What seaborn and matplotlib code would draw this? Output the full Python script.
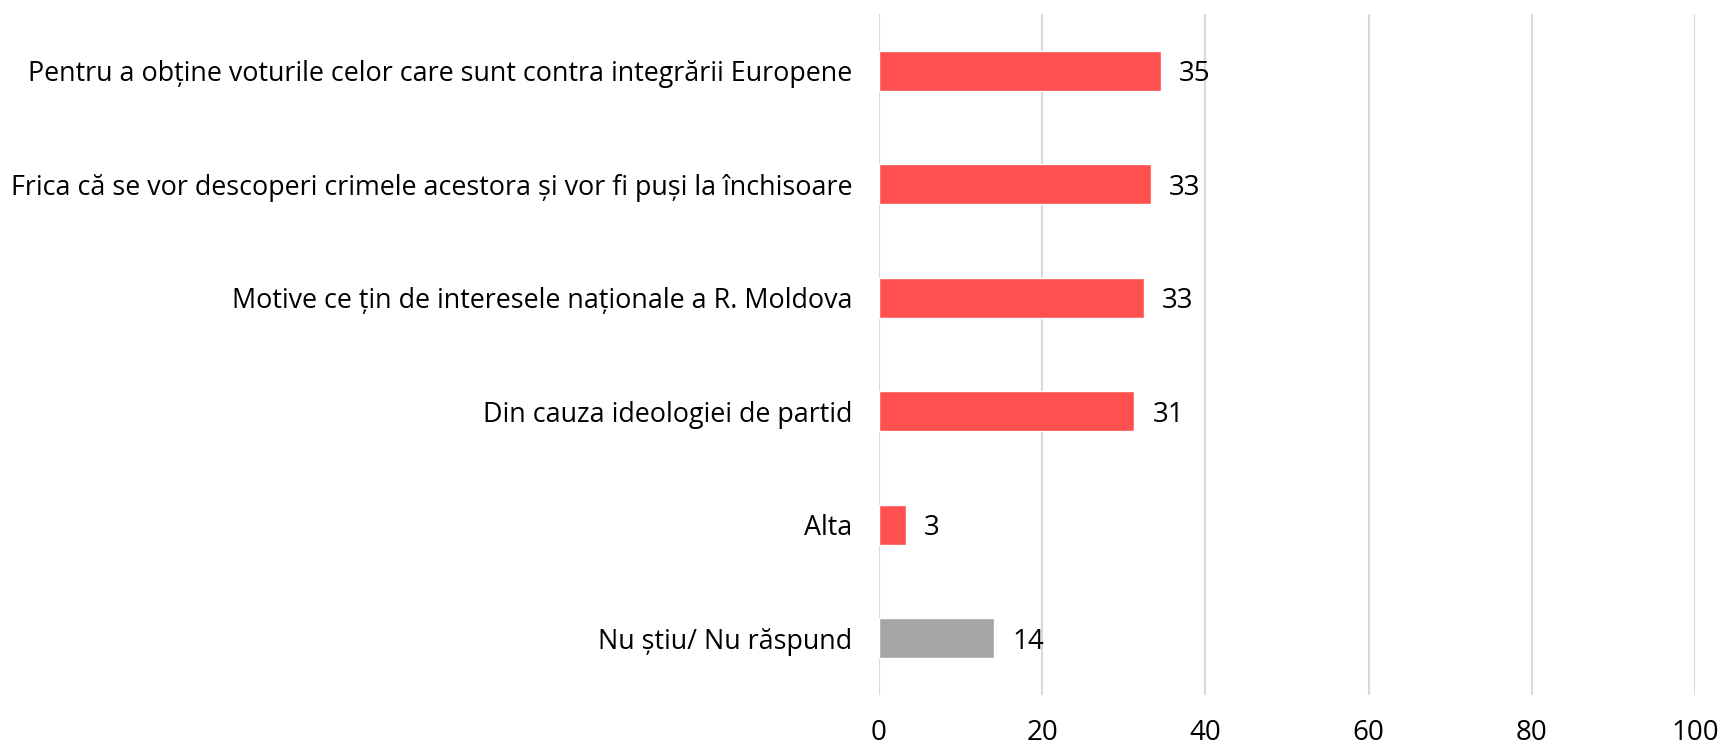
import pandas as pd
import numpy as np
import matplotlib.pyplot as plt
import seaborn as sns

# data
categories = ['Pentru a obține voturile celor care sunt contra integrării Europene',
              'Frica că se vor descoperi crimele acestora și vor fi puși la închisoare',
              'Motive ce țin de interesele naționale a R. Moldova',
              'Din cauza ideologiei de partid',
              'Alta',
              'Nu știu/ Nu răspund']
values = [34.6, 33.3, 32.5, 31.3, 3.3, 14.1]
labels = ['35', '33', '33', '31', '3', '14']
bar_colors = ['#FF5050', '#FF5050', '#FF5050', '#FF5050', '#FF5050', '#A5A5A5']
xticks = [0, 20, 40, 60, 80, 100]

sns.set_theme(style='white')
plt.rcParams['font.family'] = ['Open Sans', 'DejaVu Sans']

df = pd.DataFrame({'cat': categories, 'val': values})

fig = plt.figure(figsize=(17.23, 7.48), dpi=100)
ax = fig.add_axes([879 / 1723, 1 - 695 / 748, (1695 - 879) / 1723, (695 - 14) / 748])

sns.barplot(data=df, x='val', y='cat', hue='cat', palette=bar_colors,
            legend=False, width=0.355, ax=ax, saturation=1, zorder=3)

for i, (v, lab) in enumerate(zip(values, labels)):
    ax.text(v + 2.2, i + 0.03, lab, va='center', ha='left', fontsize=20, color='black')

ax.set_xlim(0, 100)
ax.set_ylim(5.5, -0.5)
ax.set_xticks(xticks)
ax.set_xticklabels([str(t) for t in xticks], fontsize=20, color='black')
ax.tick_params(axis='x', length=0, pad=17)
ax.tick_params(axis='y', length=0, pad=19, labelsize=19.4, labelcolor='black')
ax.xaxis.grid(True, color='#D9D9D9', linewidth=1.5, zorder=0)
ax.set_xlabel('')
ax.set_ylabel('')
for s in ax.spines.values():
    s.set_visible(False)

fig.savefig('out.png', dpi=100)
